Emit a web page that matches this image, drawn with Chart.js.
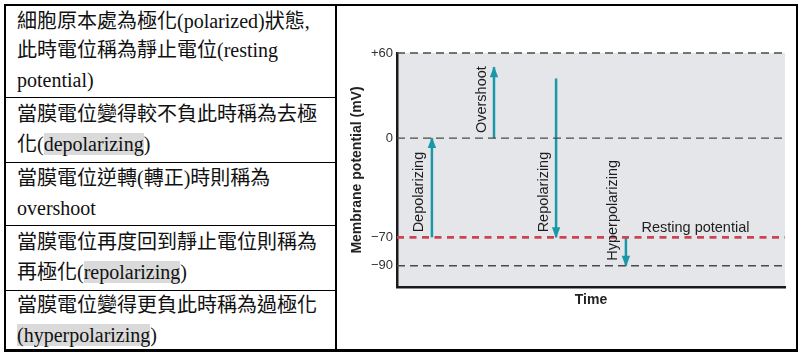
<!DOCTYPE html>
<html>
<head>
<meta charset="utf-8">
<script src="https://cdn.jsdelivr.net/npm/chart.js@4/dist/chart.umd.min.js"></script>
<style>
  html, body { margin: 0; padding: 0; background: #fff; width: 803px; height: 359px; overflow: hidden; }
  #frame { position: absolute; left: 4px; top: 4px; width: 794px; height: 348px; box-sizing: border-box; border: 2.5px solid #000; border-bottom-width: 3px; }
  .vline { position: absolute; left: 335px; top: 4px; width: 1.5px; height: 348px; background: #000; }
  .hline { position: absolute; left: 4px; width: 332px; height: 1.5px; background: #000; }
  .cell { position: absolute; left: 6px; width: 329px; display: flex; flex-direction: column; justify-content: center;
          font-family: "Liberation Serif", "Noto Sans CJK TC", serif; font-size: 20px; line-height: 29.5px; color: #111;
          padding-left: 11px; box-sizing: border-box; white-space: nowrap; }
  .hl { background: #dadada; }
  canvas { position: absolute; left: 0; top: 0; }
</style>
</head>
<body>
<div id="frame"></div>
<div class="vline"></div>
<div class="hline" style="top:96.5px"></div>
<div class="hline" style="top:161.5px"></div>
<div class="hline" style="top:224.5px"></div>
<div class="hline" style="top:289.5px"></div>
<div class="cell" style="top:6px;height:90px">
  <div>細胞原本處為極化(polarized)狀態,</div>
  <div>此時電位稱為靜止電位(resting</div>
  <div>potential)</div>
</div>
<div class="cell" style="top:98px;height:63px">
  <div>當膜電位變得較不負此時稱為去極</div>
  <div>化(<span class="hl">depolarizing</span>)</div>
</div>
<div class="cell" style="top:163px;height:61px">
  <div>當膜電位逆轉(轉正)時則稱為</div>
  <div>overshoot</div>
</div>
<div class="cell" style="top:226px;height:63px">
  <div>當膜電位再度回到靜止電位則稱為</div>
  <div>再極化(<span class="hl">repolarizing</span>)</div>
</div>
<div class="cell" style="top:291px;height:59px">
  <div>當膜電位變得更負此時稱為過極化</div>
  <div><span class="hl">(hyperpolarizing</span>)</div>
</div>
<canvas id="c" width="803" height="359"></canvas>
<script>
// ---- data ----
const timeMin = 0;
const timeMax = 100;
const potentialMin = -105;
const potentialMax = 60;
const tickValues = [60, 0, -70, -90];
const tickLabels = ['+60', '0', '\u221270', '\u221290'];
const referenceLevels = [60, 0, -90];
const restingPotential = -70;
const restingLabel = 'Resting potential';
const restingLabelTime = 63;
const phaseNames = ['Depolarizing', 'Overshoot', 'Repolarizing', 'Hyperpolarizing'];
const phaseTimes = [9, 25, 41, 59];
const phaseStart = [-70, 0, 42, -70];
const phaseEnd = [0, 50, -70, -90];
const yTitle = 'Membrane potential (mV)';
const xTitle = 'Time';

// ---- styles ----
const TEAL = '#1b98a8';
const RED = '#cc4450';
const DASHGRAY = '#4a4a4a';
const FONT = "'Liberation Sans', Arial, sans-serif";

const datasets = [];
referenceLevels.forEach(v => datasets.push({
  data: [{x: timeMin, y: v}, {x: timeMax, y: v}],
  borderColor: DASHGRAY, borderWidth: 1.3, borderDash: [8, 5], pointRadius: 0, clip: false
}));
datasets.push({
  data: [{x: timeMin, y: restingPotential}, {x: timeMax, y: restingPotential}],
  borderColor: RED, borderWidth: 2.6, borderDash: [7, 5.5], pointRadius: 0, clip: false, isResting: true
});
phaseNames.forEach((name, i) => datasets.push({
  data: [{x: phaseTimes[i], y: phaseStart[i]}, {x: phaseTimes[i], y: phaseEnd[i]}],
  borderColor: TEAL, borderWidth: 2.5, pointRadius: 0, clip: false, arrowLabel: name
}));

const bgPlugin = {
  id: 'bg',
  beforeDraw(chart) {
    const {ctx, chartArea: a} = chart;
    ctx.save();
    ctx.fillStyle = '#e5e6e9';
    ctx.fillRect(a.left, a.top, a.right - a.left, a.bottom - a.top);
    ctx.restore();
  }
};

const arrowPlugin = {
  id: 'arrows',
  afterDatasetsDraw(chart) {
    const {ctx} = chart;
    const y = chart.scales.y;
    chart.data.datasets.forEach((ds, di) => {
      const meta = chart.getDatasetMeta(di);
      if (ds.arrowLabel) {
        const p0 = meta.data[0], p1 = meta.data[1];
        const dir = p1.y < p0.y ? -1 : 1;
        const len = 10, half = 4.2;
        ctx.save();
        ctx.fillStyle = ds.borderColor;
        ctx.beginPath();
        ctx.moveTo(p1.x, p1.y + dir * 1);
        ctx.lineTo(p1.x - half, p1.y - dir * len);
        ctx.lineTo(p1.x + half, p1.y - dir * len);
        ctx.closePath();
        ctx.fill();
        // label
        const lowY = Math.max(p0.y, p1.y);
        ctx.translate(p0.x - 12.5, lowY - 5);
        ctx.rotate(-Math.PI / 2);
        ctx.font = '14.5px ' + FONT;
        ctx.fillStyle = '#1e1e1e';
        ctx.textAlign = 'left';
        ctx.textBaseline = 'middle';
        ctx.fillText(ds.arrowLabel, 0, 0);
        ctx.restore();
      }
      if (ds.isResting) {
        const xs = chart.scales.x;
        ctx.save();
        ctx.font = '14.5px ' + FONT;
        ctx.fillStyle = '#1e1e1e';
        ctx.textAlign = 'left';
        ctx.textBaseline = 'alphabetic';
        ctx.fillText(restingLabel, xs.getPixelForValue(restingLabelTime), y.getPixelForValue(restingPotential) - 5);
        ctx.restore();
      }
    });
  }
};

new Chart(document.getElementById('c'), {
  type: 'line',
  data: { datasets },
  options: {
    responsive: false,
    animation: false,
    devicePixelRatio: 1,
    layout: { padding: { left: 338, top: 53, right: 18, bottom: 9 } },
    plugins: { legend: { display: false }, tooltip: { enabled: false } },
    scales: {
      x: {
        type: 'linear', min: timeMin, max: timeMax,
        ticks: { display: false },
        grid: { display: false, drawTicks: false },
        border: { display: true, color: '#1a1a1a', width: 2.5 },
        title: { display: true, text: xTitle, color: '#222', font: { family: FONT, size: 14, weight: 'bold' }, padding: { top: 0, bottom: 41.6 } },
        afterFit(s) { s.height = 63; }
      },
      y: {
        type: 'linear', min: potentialMin, max: potentialMax,
        afterBuildTicks(s) { s.ticks = tickValues.map(v => ({ value: v })); },
        ticks: {
          padding: 4, color: '#333', font: { family: FONT, size: 13 },
          callback: (v) => tickLabels[tickValues.indexOf(v)]
        },
        grid: { display: false, drawTicks: false },
        border: { display: true, color: '#1a1a1a', width: 2.5 },
        title: { display: true, text: yTitle, color: '#222', font: { family: FONT, size: 14, weight: 'bold' }, padding: { top: 10.6, bottom: 0 } },
        afterFit(s) { s.width = 59; }
      }
    }
  },
  plugins: [bgPlugin, arrowPlugin]
});
</script>
</body>
</html>
